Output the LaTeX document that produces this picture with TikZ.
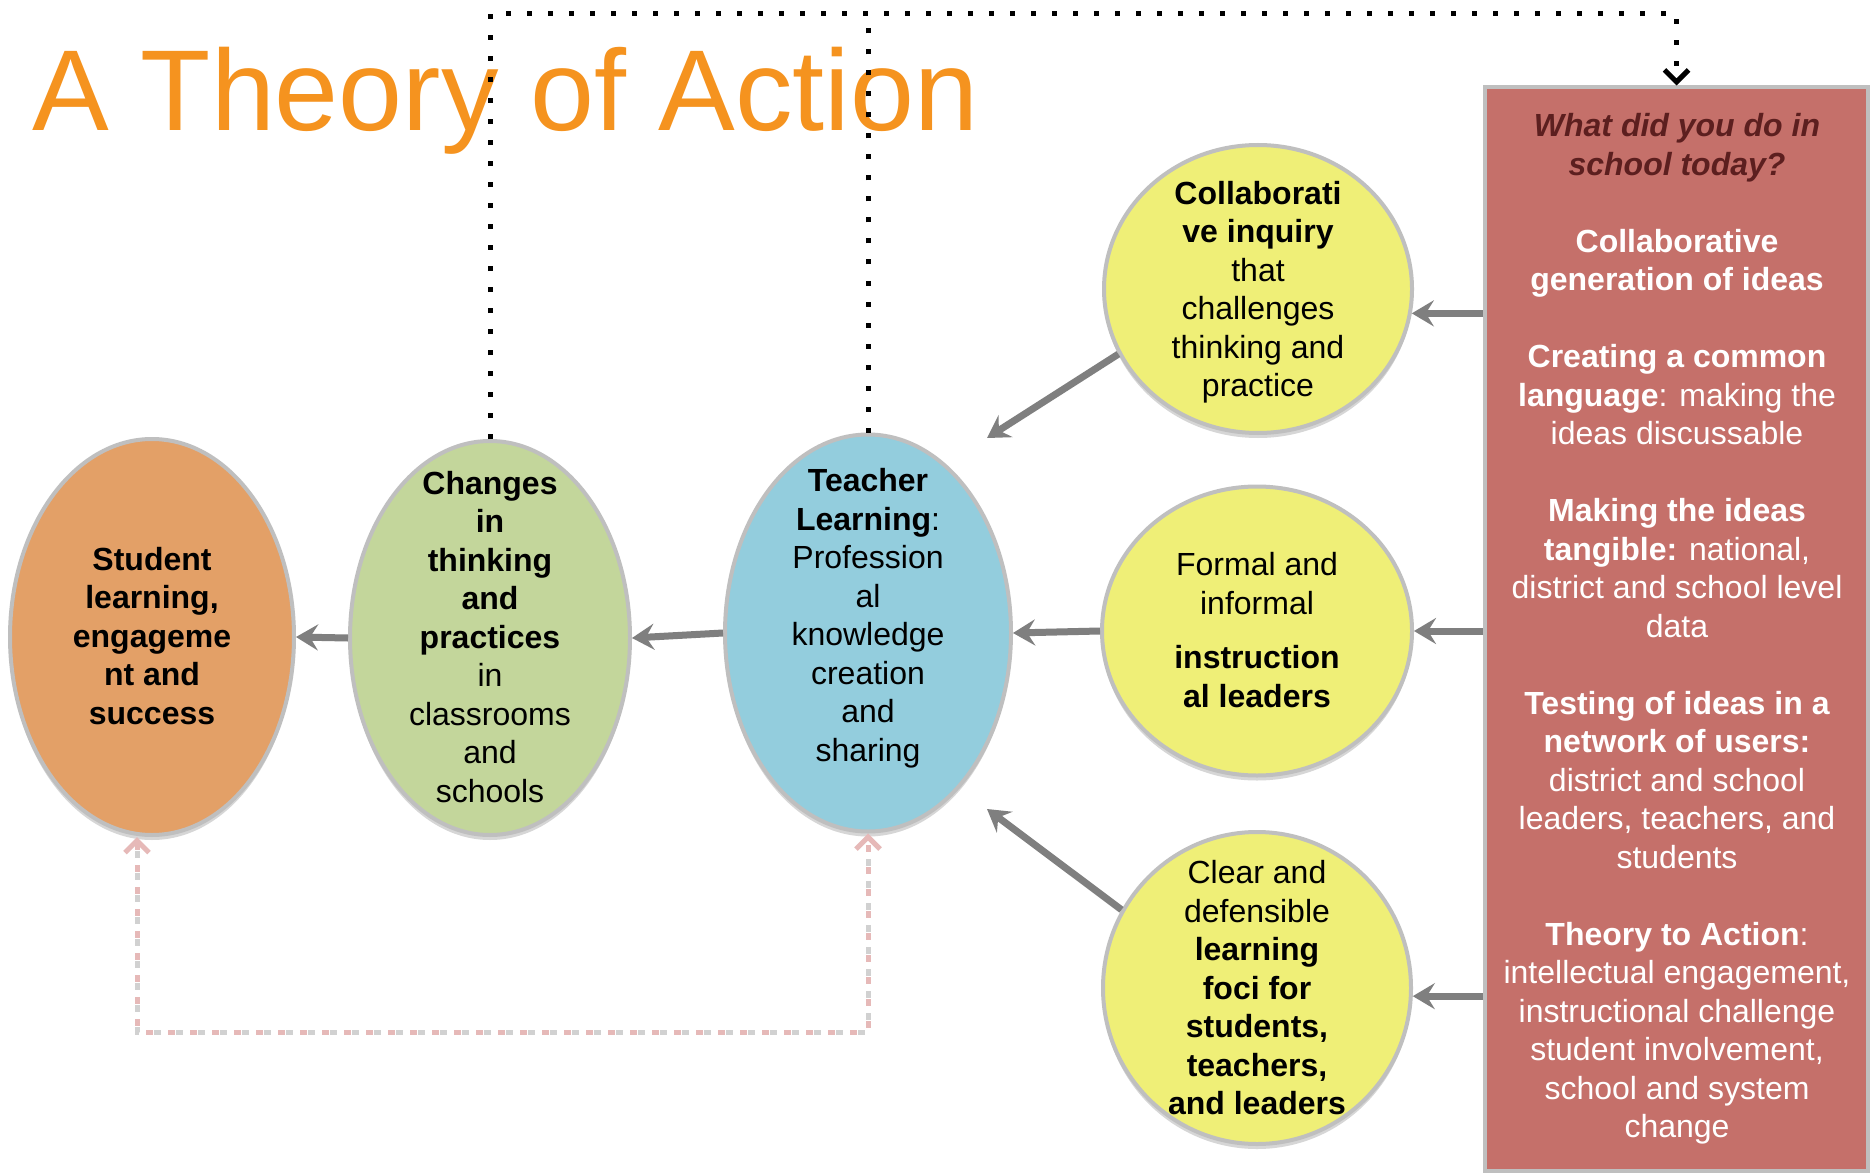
\documentclass[tikz,border=0pt]{standalone}
\usepackage{fontspec}
\setmainfont{Liberation Sans}
\usetikzlibrary{shapes.geometric,arrows.meta,calc}
\definecolor{titleorange}{HTML}{F5931F}
\definecolor{ellorange}{HTML}{E3A067}
\definecolor{ellgreen}{HTML}{C3D69B}
\definecolor{ellblue}{HTML}{93CDDD}
\definecolor{ellyellow}{HTML}{EFEF77}
\definecolor{boxred}{HTML}{C5706A}
\definecolor{darkred}{HTML}{5C1F1F}
\definecolor{rimgray}{HTML}{BFBFBF}
\definecolor{arrowgray}{HTML}{7F7F7F}
\definecolor{pinkdot}{HTML}{E6B9B8}
\tikzset{mybarb/.tip={Straight Barb[length=12pt,width=24pt]}}
\begin{document}
\begin{tikzpicture}[x=1pt,y=-1pt,
  ell/.style={ellipse, draw=rimgray, line width=4pt, inner sep=0pt},
  ellshadow/.style={ellipse, fill=black!16, draw=none, inner sep=0pt},
  txt/.style={align=center, font=\fontsize{32}{38.5}\selectfont, text=black, inner sep=0pt},
  boxtxt/.style={align=center, font=\fontsize{32}{38.5}\selectfont, text=white, inner sep=0pt},
  flow/.style={draw=arrowgray, line width=7pt, -{Stealth[length=22pt,width=26pt,inset=8pt]}},
  dotline/.style={draw=black, line width=5pt, dash pattern=on 5pt off 16pt},
  pinkline/.style={draw=pinkdot, line width=5pt, dash pattern=on 7pt off 15pt},
  pinkshadow/.style={draw=black!18, line width=5pt, dash pattern=on 7pt off 15pt},
]
\useasboundingbox[fill=white] (0,0) rectangle (1870,1174);

% title
\node[anchor=base west, inner sep=0pt, text=titleorange, font=\fontsize{115}{130}\selectfont] (title) at (32,131) {A Theory of Action};

% red box
\node[draw=rimgray, line width=4pt, fill=boxred, minimum width=383pt, minimum height=1083pt, inner sep=0pt] (rb) at (1676.5,629) {};
\node[boxtxt] (rbtext) at (1677,629) {%
\textcolor{darkred}{\bfseries\itshape What did you do in}\\
\textcolor{darkred}{\bfseries\itshape school today?}\\[38.5pt]
\textbf{Collaborative}\\
\textbf{generation of ideas}\\[38.5pt]
\textbf{Creating a common}\\
\textbf{language}: making the\\
ideas discussable\\[38.5pt]
\textbf{Making the ideas}\\
\textbf{tangible:} national,\\
district and school level\\
data\\[38.5pt]
\textbf{Testing of ideas in a}\\
\textbf{network of users:}\\
district and school\\
leaders, teachers, and\\
students\\[38.5pt]
\textbf{Theory to Action}:\\
intellectual engagement,\\
instructional challenge\\
student involvement,\\
school and system\\
change};

% ellipses (shadows first)
\node[ellshadow, minimum width=284pt, minimum height=396pt] (stsh) at (152,642) {};
\node[ellshadow, minimum width=280pt, minimum height=394pt] (chsh) at (490,643) {};
\node[ellshadow, minimum width=286pt, minimum height=397pt] (tlsh) at (868,638) {};
\node[ellshadow, minimum width=308pt, minimum height=288pt] (ytsh) at (1258,294) {};
\node[ellshadow, minimum width=310pt, minimum height=289pt] (ymsh) at (1257,636) {};
\node[ellshadow, minimum width=308pt, minimum height=312pt] (ybsh) at (1257,993) {};

\node[ell, fill=ellorange, minimum width=284pt, minimum height=396pt] (st) at (152,637) {};
\node[ell, fill=ellgreen, minimum width=280pt, minimum height=394pt] (ch) at (490,638) {};
\node[ell, fill=ellblue, minimum width=286pt, minimum height=397pt] (tl) at (868,633) {};
\node[ell, fill=ellyellow, minimum width=308pt, minimum height=288pt] (yt) at (1258,289) {};
\node[ell, fill=ellyellow, minimum width=310pt, minimum height=289pt] (ym) at (1257,631) {};
\node[ell, fill=ellyellow, minimum width=308pt, minimum height=312pt] (yb) at (1257,988) {};

% ellipse texts
\node[txt] (sttext) at (152,636) {\textbf{Student}\\ \textbf{learning,}\\ \textbf{engageme}\\ \textbf{nt and}\\ \textbf{success}};
\node[txt] (chtext) at (490,637) {\textbf{Changes}\\ \textbf{in}\\ \textbf{thinking}\\ \textbf{and}\\ \textbf{practices}\\ in\\ classrooms\\ and\\ schools};
\node[txt] (tltext) at (868,618) {\textbf{Teacher}\\ \textbf{Learning}:\\ Profession\\ al\\ knowledge\\ creation\\ and\\ sharing};
\node[txt] (yttext) at (1258,292) {\textbf{Collaborati}\\ \textbf{ve inquiry}\\ that\\ challenges\\ thinking and\\ practice};
\node[txt] (ymtext) at (1257,630) {Formal and\\ informal\\[16pt] \textbf{instruction}\\ \textbf{al leaders}};
\node[txt] (ybtext) at (1257,988) {Clear and\\ defensible\\ \textbf{learning}\\ \textbf{foci for}\\ \textbf{students,}\\ \textbf{teachers,}\\ \textbf{and leaders}};

% flow arrows
\coordinate (ttip) at (987,438);
\coordinate (btip) at (987,809);
\draw[flow] (yt.205) -- (ttip);
\draw[flow] (yb.150) -- (btip);
\draw[flow] (ch.west) -- (st.east);
\draw[flow] (tl.west) -- (ch.east);
\draw[flow] (ym.west) -- (tl.east);
\draw[flow] (yt.-9 -| rb.west) -- (yt.-9);
\draw[flow] (ym.east -| rb.west) -- (ym.east);
\draw[flow] (yb.-3 -| rb.west) -- (yb.-3);

% black dotted feedback lines
\coordinate (topy) at (0,14);
\draw[dotline, -{mybarb}] (ch.north) |- (rb.north |- topy) -- (rb.north);
\draw[dotline] (tl.north) -- (tl.north |- topy);

% pink dotted line
\coordinate (pinkbase) at (137,1032);
\draw[pinkshadow, yshift=-3pt] (st.south -| pinkbase) ++(0,14) |- (tl.south |- pinkbase) -- ([yshift=-14pt]tl.south);
\draw[pinkline, {mybarb}-{mybarb}] (st.south -| pinkbase) |- (tl.south |- pinkbase) -- (tl.south);
\end{tikzpicture}
\end{document}
